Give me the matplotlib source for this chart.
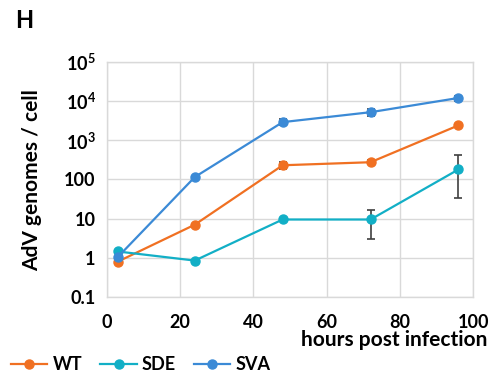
import matplotlib
matplotlib.use("Agg")
import matplotlib.pyplot as plt
from matplotlib.lines import Line2D
import numpy as np

hours = [3, 24, 48, 72, 96]
wt = [0.8, 7, 230, 275, 2400]
wt_err = [0.05, 0.5, 50, 30, 200]
sde = [1.45, 0.85, 9.5, 9.5, 180]
sde_lo = [0.1, 0.05, 0.5, 6.5, 147]
sde_hi = [0.1, 0.05, 0.5, 7.5, 240]
sva = [1.05, 115, 2900, 5200, 12000]
sva_err = [0.05, 8, 500, 1000, 1800]
yticks = [0.1, 1, 10, 100, 1000, 10000, 100000]
yticklabels = ["0.1", "1", "10", "100", r"$\mathbf{10^3}$", r"$\mathbf{10^4}$", r"$\mathbf{10^5}$"]
xticks = [0, 20, 40, 60, 80, 100]

plt.rcParams['font.family'] = ['Lato', 'DejaVu Sans']
plt.rcParams['mathtext.fontset'] = 'custom'
plt.rcParams['mathtext.bf'] = 'Lato:bold'
plt.rcParams['mathtext.rm'] = 'Lato:bold'

fig = plt.figure(figsize=(4.97, 3.75), dpi=100)
ax = fig.add_axes([0.215, 0.208, 0.737, 0.627])

c_wt = "#F07022"
c_sde = "#12AFC6"
c_sva = "#3B8AD6"
ekw = dict(ecolor="#404040", elinewidth=1.2, capsize=3, capthick=1.2)
ax.errorbar(hours, wt, yerr=wt_err, color=c_wt, marker='o', ms=6.5, lw=1.6, zorder=3, **ekw)
ax.errorbar(hours, sde, yerr=[sde_lo, sde_hi], color=c_sde, marker='o', ms=6.5, lw=1.6, zorder=3, **ekw)
ax.errorbar(hours, sva, yerr=sva_err, color=c_sva, marker='o', ms=6.5, lw=1.6, zorder=3, **ekw)

ax.set_yscale('log')
ax.set_ylim(0.1, 100000)
ax.set_xlim(0, 100)
ax.set_yticks(yticks)
ax.set_yticklabels(yticklabels)
ax.minorticks_off()
ax.set_xticks(xticks)
ax.tick_params(length=0, labelsize=13)
ax.tick_params(axis='x', pad=12)
ax.tick_params(axis='y', pad=8)
for lab in ax.get_xticklabels() + ax.get_yticklabels():
    lab.set_fontweight('bold')
ax.grid(True, color="#D9D9D9", lw=1.0)
ax.set_axisbelow(True)
for s in ax.spines.values():
    s.set_color("#D9D9D9")
    s.set_linewidth(1.0)

fig.text(0.98, 0.093, "hours post infection", ha='right', va='center', fontsize=15, fontweight='bold')
fig.text(0.065, 0.52, "AdV genomes / cell", ha='center', va='center', rotation=90, fontsize=15, fontweight='bold')
fig.text(0.03, 0.945, "H", ha='left', va='center', fontsize=17, fontweight='bold')

handles = [Line2D([], [], color=c, marker='o', ms=6.5, lw=1.6) for c in (c_wt, c_sde, c_sva)]
leg = fig.legend(handles, ["WT", "SDE", "SVA"], loc='center left', bbox_to_anchor=(-0.01, 0.027), ncol=3, frameon=False,
                 prop={'weight': 'bold', 'size': 13}, handlelength=2.0, columnspacing=1.0, handletextpad=0.3)

fig.savefig("out.png", dpi=100)
